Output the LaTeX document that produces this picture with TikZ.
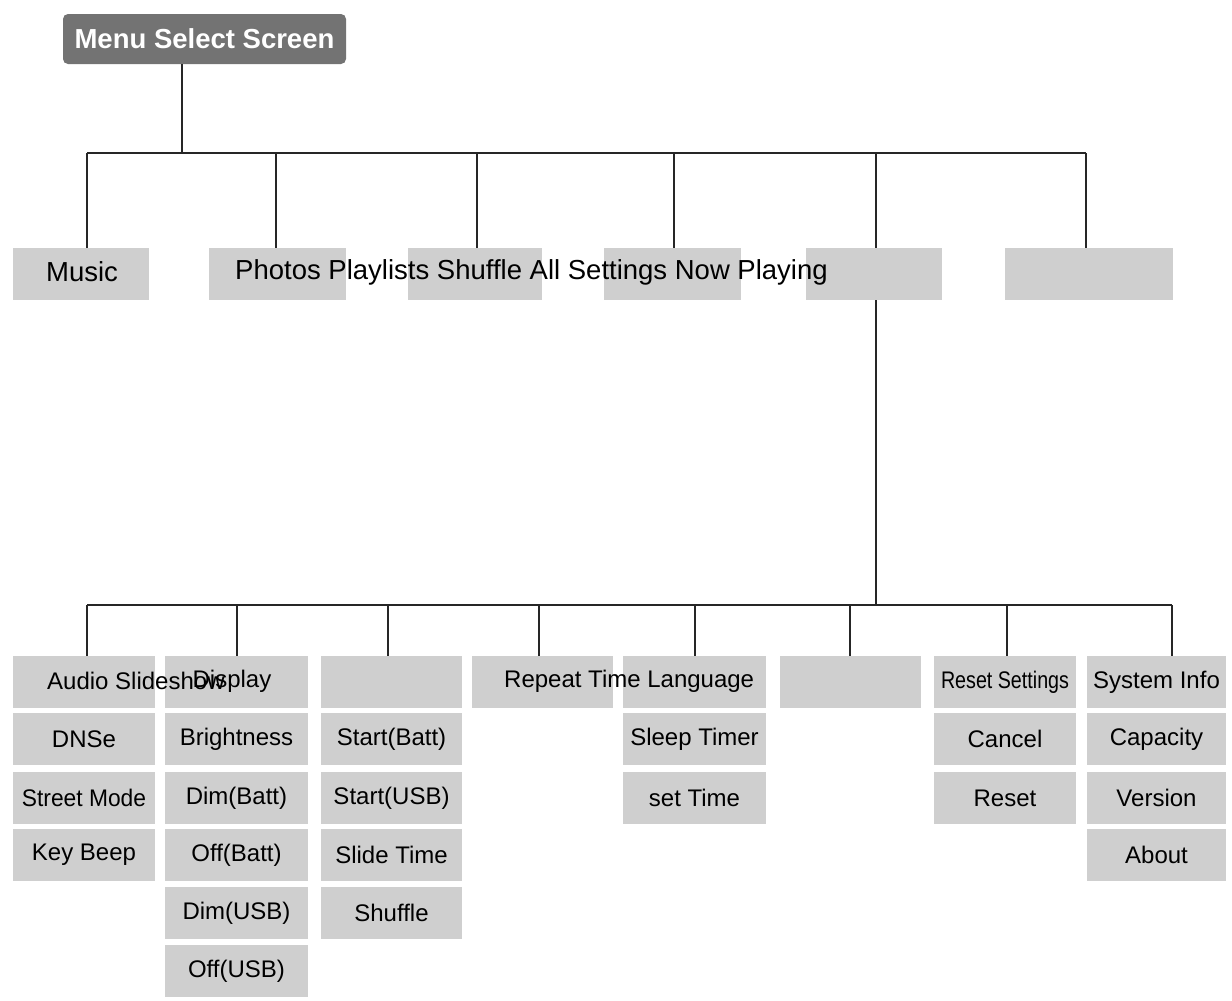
\documentclass[tikz,border=0pt]{standalone}
\usepackage{fontspec}
\setmainfont{Liberation Sans}
\begin{document}
\begin{tikzpicture}[x=1pt,y=-1pt,
  box/.style={fill=black!19,draw=none,minimum height=52pt,inner sep=0pt},
  lbl/.style={font=\fontsize{24}{26}\selectfont,inner sep=0pt},
  tlbl/.style={font=\fontsize{27.5}{30}\selectfont,inner sep=0pt},
  ln/.style={line width=1.5pt,black!85}]
\useasboundingbox (0,0) rectangle (1232,1001);
\node[fill=black!55,rounded corners=5pt,minimum width=283pt,minimum height=50pt,text=white,font=\bfseries\fontsize{27.5}{30}\selectfont] (top) at (204.5,39) {Menu Select Screen};
% top row boxes
\foreach \n/\a/\b in {m/13/149,p/209/346,q/408/542,r/604/741,s/806/942,t/1005/1173}{
  \node[box,minimum width=\b-\a] (\n) at ({(\a+\b)/2},274) {};}
\node[tlbl] (musict) at (82,272) {Music};
\node[tlbl,anchor=west] (ptxt) at (235,272) {Photos Playlists Shuffle All Settings Now Playing};
\coordinate (j1) at (182,153);
\draw[ln] (top.south -| j1) -- (j1);
\draw[ln] (87,153) coordinate (h1) -- (1086,153) coordinate (h2);
\foreach \x/\n in {87/m,276/p,477/q,674/r,876/s,1086/t}{
  \draw[ln] (\x,153) -- (\x,248);}
% bottom
\coordinate (j2) at (876,605);
\draw[ln] (s.south -| j2) -- (j2);
\draw[ln] (87,605) -- (1172,605);
\foreach \x in {87,237,388,539,695,850,1007,1172}{\draw[ln] (\x,605) -- (\x,656);}
\foreach \c/\a/\b/\k in {a/13/155/4,b/165/308/6,c/321/462/5,d/472/613/1,e/623/766/3,f/780/921/1,g/934/1076/3,h/1087/1226/4}{
  \foreach \r/\y in {1/682,2/739,3/798,4/855,5/913,6/971}{
    \ifnum\r>\k\relax\else
    \node[box,minimum width=\b-\a] (\c\r) at ({(\a+\b)/2},\y) {};\fi}}
\node[lbl,anchor=west] (as) at (47,681) {Audio Slideshow};
\node[lbl] (disp) at (232,681) {Display};
\node[lbl] at (a2) {DNSe};
\node[lbl,xscale=0.95] at (a3) {Street Mode};
\node[lbl] at (a4) {Key Beep};
\node[lbl] at (b2) {Brightness};
\node[lbl] at (b3) {Dim(Batt)};
\node[lbl] at (b4) {Off(Batt)};
\node[lbl] at (b5) {Dim(USB)};
\node[lbl] at (b6) {Off(USB)};
\node[lbl] at (c2) {Start(Batt)};
\node[lbl] at (c3) {Start(USB)};
\node[lbl] at (c4) {Slide Time};
\node[lbl] at (c5) {Shuffle};
\node[lbl,anchor=west] (rtl) at (504,681) {Repeat Time Language};
\node[lbl] at (e2) {Sleep Timer};
\node[lbl] at (e3) {set Time};
\node[lbl,xscale=0.82] at (g1) {Reset Settings};
\node[lbl] at (g2) {Cancel};
\node[lbl] at (g3) {Reset};
\node[lbl] at (h1) {System Info};
\node[lbl] at (h2) {Capacity};
\node[lbl] at (h3) {Version};
\node[lbl] at (h4) {About};
\end{tikzpicture}
\end{document}
